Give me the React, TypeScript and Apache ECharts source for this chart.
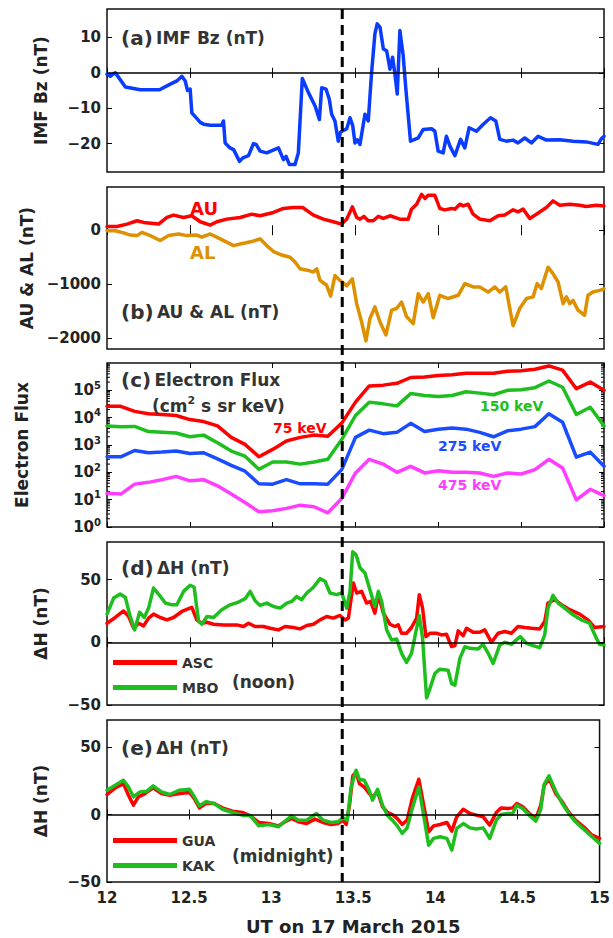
import React, { useEffect, useRef } from 'react';
import * as echarts from 'echarts';

// ---------------- data ----------------
const EVENT_TIME = 13.42;
const X_MIN = 12;
const X_MAX = 15;

const bzTicks = [-20, -10, 0, 10];
const aeTicks = [-2000, -1000, 0];
const fluxTicks = [1, 10, 100, 1e3, 1e4, 1e5];
const fluxDecades = [1, 10, 100, 1e3, 1e4, 1e5];
const minorSteps = [2, 3, 4, 5, 6, 7, 8, 9];
const dhTicks = [-50, 0, 50];

const imfBz = [
  [12.0, -0.4], [12.02, -1.0], [12.036, -0.4], [12.05, 0], [12.07, -1.3], [12.111, -4.0], [12.201, -4.8],
  [12.317, -4.8], [12.382, -3.2], [12.422, -2.3], [12.452, -1.0], [12.472, -2.3], [12.486, -5.0], [12.502, -4.6],
  [12.512, -11.3], [12.563, -14.0], [12.583, -14.5], [12.623, -14.8], [12.693, -14.8], [12.703, -13.6],
  [12.713, -19.8], [12.743, -21.2], [12.764, -21.7], [12.774, -22.6], [12.8, -25.0], [12.82, -24.0],
  [12.854, -23.4], [12.884, -20.0], [12.9, -20.2], [12.924, -22.1], [12.964, -22.6], [13.035, -21.2],
  [13.065, -24.5], [13.081, -23.6], [13.101, -25.9], [13.135, -25.9], [13.155, -22.6], [13.179, -1.6],
  [13.216, -5.6], [13.256, -9.4], [13.282, -13.2], [13.296, -4.2], [13.322, -4.6], [13.342, -7.5],
  [13.356, -11.7], [13.376, -13.6], [13.396, -19.3], [13.41, -16.7], [13.447, -15.8], [13.467, -12.7],
  [13.483, -14.9], [13.497, -19.8], [13.511, -18.9], [13.527, -20.2], [13.557, -11.7], [13.577, -13.6],
  [13.597, 0], [13.617, 11.0], [13.631, 13.8], [13.648, 12.9], [13.668, 6.7], [13.688, 6.2], [13.708, 1.0],
  [13.724, 4.4], [13.738, -0.4], [13.752, -6.0], [13.768, 11.9], [13.788, 4.8], [13.804, -4.6],
  [13.832, -19.3], [13.879, -18.4], [13.909, -16.0], [13.959, -15.8], [13.979, -16.5], [13.999, -22.1],
  [14.029, -22.6], [14.049, -17.9], [14.07, -20.7], [14.1, -23.4], [14.134, -18.8], [14.16, -21.2],
  [14.186, -15.5], [14.23, -16.5], [14.27, -14.6], [14.315, -12.7], [14.347, -13.6], [14.371, -18.8],
  [14.411, -19.3], [14.451, -19.0], [14.481, -19.8], [14.522, -18.4], [14.562, -19.8], [14.602, -17.9],
  [14.652, -19.0], [14.733, -18.9], [14.813, -19.3], [14.893, -19.5], [14.964, -20.2], [14.984, -18.6],
  [15.0, -17.9],
];

const auIndex = [
  [12.0, 70], [12.06, 70], [12.121, 113], [12.181, 175], [12.221, 144], [12.311, 113], [12.362, 236],
  [12.402, 280], [12.462, 236], [12.512, 267], [12.563, 156], [12.623, 95], [12.663, 156], [12.723, 205],
  [12.804, 236], [12.874, 297], [12.924, 267], [13.005, 328], [13.065, 402], [13.125, 420], [13.181, 420],
  [13.246, 280], [13.306, 205], [13.366, 156], [13.417, 113], [13.447, 205], [13.481, 432], [13.507, 236],
  [13.527, 205], [13.551, 255], [13.577, 175], [13.607, 175], [13.638, 255], [13.668, 218], [13.708, 267],
  [13.768, 205], [13.818, 205], [13.838, 390], [13.869, 482], [13.899, 666], [13.919, 586], [13.939, 647],
  [13.979, 647], [14.009, 402], [14.039, 377], [14.08, 402], [14.1, 390], [14.13, 482], [14.15, 450],
  [14.18, 482], [14.21, 297], [14.25, 205], [14.311, 175], [14.361, 267], [14.401, 280], [14.451, 377],
  [14.481, 340], [14.512, 390], [14.552, 218], [14.592, 297], [14.652, 420], [14.692, 543], [14.733, 463],
  [14.793, 482], [14.853, 463], [14.893, 439], [14.954, 463], [15.0, 450],
];

const alIndex = [
  [12.0, -10], [12.05, -10], [12.1, -50], [12.141, -90], [12.181, -100], [12.211, -40], [12.261, -100],
  [12.321, -190], [12.372, -100], [12.432, -70], [12.482, -100], [12.542, -90], [12.573, -130],
  [12.623, -70], [12.683, -160], [12.764, -285], [12.804, -255], [12.874, -210], [12.924, -160],
  [12.964, -285], [13.005, -395], [13.055, -460], [13.105, -500], [13.135, -590], [13.165, -715],
  [13.216, -745], [13.246, -775], [13.266, -715], [13.286, -930], [13.326, -1020], [13.35, -1220],
  [13.376, -840], [13.406, -930], [13.447, -1030], [13.481, -900], [13.507, -1360], [13.537, -1700],
  [13.563, -2050], [13.587, -1640], [13.617, -1420], [13.648, -1700], [13.684, -1940], [13.718, -1480],
  [13.748, -1450], [13.778, -1330], [13.808, -1600], [13.848, -1730], [13.879, -1175], [13.909, -1330],
  [13.939, -1175], [13.969, -1620], [14.009, -1205], [14.059, -1265], [14.12, -1205], [14.16, -990],
  [14.21, -1050], [14.25, -1050], [14.301, -1145], [14.341, -1050], [14.371, -1145], [14.407, -1050],
  [14.451, -1770], [14.491, -1450], [14.532, -1265], [14.572, -1235], [14.596, -990], [14.622, -1080],
  [14.662, -685], [14.692, -805], [14.723, -960], [14.753, -1360], [14.773, -1235], [14.793, -1360],
  [14.813, -1300], [14.843, -1480], [14.883, -1575], [14.903, -1205], [14.933, -1145], [14.974, -1115],
  [15.0, -1085],
];

const fluxTime = [
  12.0, 12.083, 12.167, 12.25, 12.333, 12.417, 12.5, 12.583, 12.667, 12.75, 12.833, 12.917, 13.0,
  13.083, 13.167, 13.25, 13.333, 13.417, 13.5, 13.583, 13.667, 13.75, 13.833, 13.917, 14.0, 14.083,
  14.167, 14.25, 14.333, 14.417, 14.5, 14.583, 14.667, 14.75, 14.833, 14.917, 15.0,
];
const flux75 = [
  2.6e4, 2.6e4, 1.7e4, 1.4e4, 1.3e4, 1.2e4, 8.5e3, 7.2e3, 5.0e3, 1.9e3, 1.05e3, 3.7e2, 6.9e2, 1.4e3,
  1.9e3, 2.3e3, 2.1e3, 6.3e3, 3.7e4, 1.45e5, 1.55e5, 1.8e5, 2.95e5, 3.1e5, 3.5e5, 3.7e5, 4.2e5, 4.2e5,
  4.2e5, 5.0e5, 5.2e5, 5.9e5, 7.8e5, 5.5e5, 1.15e5, 2.0e5, 1.0e5,
];
const flux150 = [
  5.0e3, 4.7e3, 4.8e3, 3.1e3, 2.9e3, 2.75e3, 2.0e3, 2.3e3, 1.2e3, 6.0e2, 3.9e2, 1.3e2, 2.4e2, 2.4e2,
  2.0e2, 2.4e2, 3.0e2, 1.6e3, 1.2e4, 3.7e4, 3.2e4, 2.7e4, 7.6e4, 6.5e4, 6.0e4, 6.5e4, 8.9e4, 7.9e4,
  6.9e4, 1.0e5, 1.05e5, 1.25e5, 2.2e5, 1.3e5, 1.3e4, 2.4e4, 5.0e3,
];
const flux275 = [
  3.7e2, 3.7e2, 6.3e2, 5.2e2, 5.5e2, 6.0e2, 4.9e2, 5.2e2, 3.1e2, 1.8e2, 1.1e2, 38, 37, 54, 38, 38, 37,
  1.26e2, 1.9e3, 3.5e3, 2.6e3, 2.9e3, 6.2e3, 3.1e3, 3.8e3, 4.2e3, 3.8e3, 2.9e3, 2.0e3, 3.3e3, 3.8e3,
  4.7e3, 1.4e4, 6.8e3, 3.6e2, 5.5e2, 1.66e2,
];
const flux475 = [
  17, 16, 37, 43, 54, 71, 49, 54, 32, 16, 7.9, 3.6, 3.9, 4.8, 6.3, 5.5, 3.3, 11, 95, 3.0e2, 2.0e2,
  1.0e2, 1.66e2, 95, 1.15e2, 1.0e2, 1.0e2, 95, 71, 95, 87, 1.26e2, 3.0e2, 1.45e2, 9.8, 24, 14,
];

const dhASC = [
  [12.0, 15.2], [12.05, 19.8], [12.1, 25], [12.131, 20.6], [12.161, 11.2], [12.191, 15.2], [12.221, 13.1],
  [12.251, 19.3], [12.281, 22.5], [12.321, 19.8], [12.362, 17.9], [12.402, 19.8], [12.452, 24.6],
  [12.512, 27.8], [12.542, 17.9], [12.573, 15.2], [12.603, 16], [12.643, 14.4], [12.703, 13.9],
  [12.784, 13.9], [12.824, 12.6], [12.854, 15.2], [12.894, 12.6], [12.944, 12.6], [12.985, 11.2],
  [13.035, 9.9], [13.075, 12.6], [13.125, 11.8], [13.165, 10.7], [13.206, 13.4], [13.246, 14.4],
  [13.286, 17.9], [13.326, 20.6], [13.366, 19.3], [13.406, 21.4], [13.437, 17.9], [13.457, 19.3],
  [13.487, 47.3], [13.507, 39.3], [13.537, 40.6], [13.567, 31.3], [13.591, 32.6], [13.617, 23.3],
  [13.638, 38], [13.668, 23.3], [13.708, 14.4], [13.738, 12.6], [13.758, 13.9], [13.778, 7.2],
  [13.808, 7.2], [13.838, 11.8], [13.869, 19.3], [13.885, 38], [13.905, 27.3], [13.925, 4.5],
  [13.949, 7.2], [13.989, 7.2], [14.019, 5.9], [14.049, 6.4], [14.08, -3.5], [14.1, -2.7], [14.12, 9.1],
  [14.15, 5.3], [14.17, 11.2], [14.21, 8], [14.25, 8], [14.28, 9.9], [14.321, 0], [14.361, 7.2],
  [14.401, 8.6], [14.441, 7.2], [14.481, 12.6], [14.522, 11.8], [14.562, 11.2], [14.612, 10.7],
  [14.642, 16.6], [14.662, 31.3], [14.702, 34], [14.743, 30], [14.793, 26], [14.853, 22.5],
  [14.903, 17.9], [14.943, 11.8], [15.0, 12.6],
];

const dhMBO = [
  [12.0, 22.5], [12.04, 35.3], [12.08, 38.5], [12.111, 35.8], [12.137, 21.9], [12.167, 9.9], [12.197, 24],
  [12.225, 19.8], [12.251, 27.3], [12.281, 43.3], [12.311, 38.5], [12.352, 31.3], [12.392, 29.9],
  [12.422, 29.9], [12.462, 40.6], [12.502, 45.5], [12.526, 43.9], [12.553, 16.6], [12.573, 14.4],
  [12.603, 20.6], [12.643, 19.8], [12.693, 25.9], [12.743, 29.9], [12.794, 32.1], [12.834, 34.8],
  [12.864, 40.6], [12.894, 33.2], [12.924, 29.4], [12.964, 31.3], [13.005, 28.6], [13.045, 27.3],
  [13.085, 31.3], [13.115, 32.6], [13.145, 36.6], [13.175, 34], [13.206, 39.3], [13.246, 43.9],
  [13.286, 50.8], [13.316, 48.7], [13.346, 39.3], [13.386, 38], [13.417, 39.3], [13.447, 27.3],
  [13.467, 40.6], [13.483, 72.2], [13.503, 70], [13.527, 59.4], [13.557, 55.3], [13.587, 42],
  [13.617, 28.6], [13.638, 40.6], [13.658, 32.6], [13.688, 9.9], [13.718, 1.9], [13.748, 2.7],
  [13.778, -8.8], [13.808, -16], [13.838, -8.8], [13.869, 11.2], [13.885, 21.4], [13.905, 3.2],
  [13.929, -44.4], [13.949, -36.9], [13.979, -24.9], [14.009, -21.4], [14.059, -22.2], [14.08, -32.9],
  [14.1, -34.2], [14.13, -12.8], [14.16, -3.5], [14.19, -4.8], [14.24, -5.3], [14.27, -1.6],
  [14.301, -8.8], [14.331, -16.8], [14.371, -2.1], [14.401, 0], [14.441, -1.6], [14.471, 1.9],
  [14.495, 4.5], [14.532, -0.8], [14.572, -2.7], [14.612, -4.3], [14.642, 5.9], [14.662, 27.3],
  [14.692, 37.4], [14.723, 31.3], [14.763, 27.3], [14.813, 21.9], [14.863, 17.9], [14.913, 15.2],
  [14.954, 3.2], [14.974, -1.6], [15.0, -2.1],
];

const dhGUA = [
  [12.0, 14.8], [12.05, 19.7], [12.1, 22.9], [12.131, 14.3], [12.161, 6.9], [12.191, 13.1], [12.231, 15.5],
  [12.281, 19.7], [12.332, 15.5], [12.382, 14.3], [12.442, 15.5], [12.502, 16.3], [12.532, 11.8],
  [12.563, 4.9], [12.603, 8.1], [12.653, 8.1], [12.703, 4.9], [12.764, 2.5], [12.824, 1.5], [12.874, -1],
  [12.924, -5.9], [12.985, -6.7], [13.045, -8.4], [13.085, -5.4], [13.125, -3], [13.165, -5.4],
  [13.216, -6.7], [13.266, -3.4], [13.316, -5.9], [13.366, -7.4], [13.406, -6.7], [13.437, -4.2],
  [13.457, -7.4], [13.477, 6.9], [13.497, 28.6], [13.517, 31.5], [13.537, 22.9], [13.567, 20.4],
  [13.597, 15.5], [13.617, 13.1], [13.648, 16.7], [13.678, 5.7], [13.708, 1.5], [13.738, 0],
  [13.768, -3], [13.798, -7.4], [13.828, -4.2], [13.859, 11.8], [13.899, 26.1], [13.925, 9.4],
  [13.959, -12.8], [13.989, -8.4], [14.029, -7.4], [14.07, -5.9], [14.1, -12.3], [14.13, -1.7],
  [14.17, 3.9], [14.21, 0.7], [14.25, -0.5], [14.291, -1.7], [14.331, -7.9], [14.371, 1.5],
  [14.401, 4.9], [14.441, 4.4], [14.471, 4.9], [14.495, 8.1], [14.532, 5.7], [14.572, 0.7],
  [14.612, -3], [14.642, 6.9], [14.662, 21.2], [14.692, 26.6], [14.733, 15.5], [14.773, 9.4],
  [14.813, 1.5], [14.853, -4.2], [14.903, -9.1], [14.954, -15.3], [15.0, -17.7],
];

const dhKAK = [
  [12.0, 18], [12.05, 21.7], [12.1, 25.4], [12.131, 20.4], [12.161, 13.1], [12.201, 16.7], [12.241, 17.2],
  [12.281, 21.2], [12.332, 16.7], [12.382, 14.8], [12.442, 18], [12.502, 18.7], [12.532, 13.1],
  [12.563, 6.4], [12.603, 9.4], [12.653, 8.1], [12.703, 3.9], [12.764, 1.5], [12.824, -0.5], [12.874, -1],
  [12.924, -8.4], [12.985, -7.4], [13.045, -9.1], [13.085, -4.9], [13.125, -1], [13.165, -4.2],
  [13.216, -4.2], [13.276, 0.7], [13.316, -4.2], [13.366, -5.9], [13.406, -5.4], [13.437, -2.5],
  [13.463, -4.2], [13.487, 20.4], [13.517, 32.8], [13.537, 26.1], [13.567, 25.4], [13.597, 18],
  [13.617, 10.6], [13.648, 18.7], [13.678, 6.9], [13.708, -0.5], [13.738, -4.2], [13.768, -8.4],
  [13.798, -14], [13.828, -9.9], [13.859, 4.4], [13.899, 20.4], [13.925, 2], [13.959, -22.7],
  [13.989, -17.7], [14.029, -16.5], [14.07, -17.7], [14.1, -26.4], [14.13, -10.3], [14.17, -6.7],
  [14.21, -9.9], [14.25, -10.8], [14.291, -9.9], [14.331, -17.7], [14.371, -4.2], [14.401, 0],
  [14.441, 0.7], [14.471, 0.7], [14.495, 6.9], [14.532, 4.4], [14.572, -0.5], [14.612, -4.9],
  [14.642, 3.9], [14.662, 22.2], [14.692, 28.6], [14.733, 17.2], [14.773, 8.1], [14.813, 0.7],
  [14.853, -5.4], [14.903, -10.8], [14.954, -16.5], [15.0, -21.4],
];

// ---------------- styling ----------------
const FONT = 'DejaVu Sans';
const INK = '#222';
const LABEL_INK = '#333';
const BLUE = '#0a3cff';
const RED = '#ff0000';
const ORANGE = '#dd9000';
const GREEN = '#1ebe1e';
const BLUE2 = '#1a4cff';
const MAGENTA = '#ff3cff';

const GRIDS = [
  { top: 9, height: 163 },
  { top: 187, height: 162 },
  { top: 363, height: 164 },
  { top: 542, height: 163 },
  { top: 720, height: 162 },
];

const Y_CFG = [
  { type: 'value', min: -28, max: 18, ticks: bzTicks, name: 'IMF Bz (nT)', nameGap: 58 },
  { type: 'value', min: -2200, max: 800, ticks: aeTicks, name: 'AU & AL (nT)', nameGap: 58 },
  { type: 'log', min: 1, max: 1e6, ticks: fluxTicks, name: 'Electron Flux', nameGap: 77 },
  { type: 'value', min: -50, max: 80, ticks: dhTicks, name: 'ΔH (nT)', nameGap: 58 },
  { type: 'value', min: -50, max: 70, ticks: dhTicks, name: 'ΔH (nT)', nameGap: 58 },
];

const minus = (v: number) => (v < 0 ? '\u2212' + Math.abs(v) : String(v));

function buildOption() {
  const xAxis: any[] = [];
  const yAxis: any[] = [];
  GRIDS.forEach((_, i) => {
    const tick = { show: true, inside: true, length: 5, lineStyle: { color: '#000', width: 1 } };
    xAxis.push({
      gridIndex: i, type: 'value', min: X_MIN, max: X_MAX, interval: 0.5, position: 'bottom',
      axisLine: { show: false }, axisTick: tick, splitLine: { show: false },
      axisLabel: {
        show: i === 4, margin: 8, color: INK, fontFamily: FONT, fontWeight: 'bold', fontSize: 15,
        formatter: (v: number) => String(v),
      },
      name: i === 4 ? 'UT on 17 March 2015' : '', nameLocation: 'middle', nameGap: 35,
      nameTextStyle: { color: INK, fontFamily: FONT, fontWeight: 'bold', fontSize: 18 },
    });
    xAxis.push({
      gridIndex: i, type: 'value', min: X_MIN, max: X_MAX, interval: 0.5, position: 'top',
      axisLine: { show: false }, axisTick: tick, splitLine: { show: false }, axisLabel: { show: false },
    });
    const c = Y_CFG[i];
    const isLog = c.type === 'log';
    yAxis.push({
      gridIndex: i, type: c.type, min: c.min, max: c.max, position: 'left',
      axisLine: { show: false },
      axisTick: { ...tick, customValues: c.ticks },
      splitLine: { show: false },
      minorTick: { show: false },
      axisLabel: {
        customValues: c.ticks, margin: 6, color: INK, fontFamily: FONT, fontWeight: 'bold', fontSize: 15,
        formatter: isLog
          ? (v: number) => `{b|10}{s|${Math.round(Math.log10(v))}}`
          : (v: number) => minus(v),
        rich: isLog
          ? {
              b: { fontFamily: FONT, fontWeight: 'bold', fontSize: 15, color: INK, lineHeight: 20 },
              s: { fontFamily: FONT, fontWeight: 'bold', fontSize: 10, color: INK, verticalAlign: 'top', lineHeight: 10 },
            }
          : undefined,
      },
      name: c.name, nameLocation: 'middle', nameGap: c.nameGap, nameRotate: 90,
      nameTextStyle: { color: INK, fontFamily: FONT, fontWeight: 'bold', fontSize: 17 },
    });
    yAxis.push({
      gridIndex: i, type: c.type, min: c.min, max: c.max, position: 'right',
      axisLine: { show: false },
      axisTick: { ...tick, customValues: c.ticks },
      splitLine: { show: false }, axisLabel: { show: false },
    });
  });

  const zeroLine = {
    silent: true, symbol: ['none', 'none'], label: { show: false },
    lineStyle: { color: '#000', width: 1.5, type: 'solid' },
    data: [{ yAxis: 0 }],
  };
  const line = (name: string, xi: number, data: any[], color: string, extra: any = {}) => ({
    type: 'line', name, xAxisIndex: xi, yAxisIndex: xi, data, symbol: 'none', showSymbol: false,
    lineStyle: { color, width: 3.5, join: 'round', cap: 'round' }, itemStyle: { color },
    silent: true, z: 3, ...extra,
  });
  const zipFlux = (vals: number[]) => fluxTime.map((t, k) => [t, vals[k]]);

  const minorVals: number[][] = [];
  fluxDecades.forEach((d) => minorSteps.forEach((s) => minorVals.push([X_MIN, d * s])));

  const series: any[] = [
    line('IMF Bz', 0, imfBz, BLUE, { markLine: zeroLine }),
    line('AU', 2, auIndex, RED),
    line('AL', 2, alIndex, ORANGE),
    line('75 keV', 4, zipFlux(flux75), RED),
    line('150 keV', 4, zipFlux(flux150), GREEN),
    line('275 keV', 4, zipFlux(flux275), BLUE2),
    line('475 keV', 4, zipFlux(flux475), MAGENTA),
    {
      type: 'custom', name: 'minor', xAxisIndex: 4, yAxisIndex: 4, data: minorVals, silent: true, clip: false,
      renderItem: (_p: any, api: any) => {
        const v = api.value(1);
        const pl = api.coord([X_MIN, v]);
        const pr = api.coord([X_MAX, v]);
        return {
          type: 'group',
          children: [
            { type: 'line', shape: { x1: pl[0], y1: pl[1], x2: pl[0] + 3, y2: pl[1] }, style: { stroke: '#000', lineWidth: 1 } },
            { type: 'line', shape: { x1: pr[0], y1: pr[1], x2: pr[0] - 3, y2: pr[1] }, style: { stroke: '#000', lineWidth: 1 } },
          ],
        };
      },
    },
    line('ASC', 6, dhASC, RED, { markLine: zeroLine }),
    line('MBO', 6, dhMBO, GREEN),
    line('GUA', 8, dhGUA, RED, { markLine: zeroLine }),
    line('KAK', 8, dhKAK, GREEN),
  ];

  const legendText = { fontFamily: FONT, fontWeight: 'bold', fontSize: 14, color: LABEL_INK, lineHeight: 17 };
  const legendBase = {
    orient: 'vertical', left: 113, icon: 'rect', itemWidth: 64, itemHeight: 5, itemGap: 8,
    selectedMode: false, textStyle: legendText, padding: 0,
  };
  const legend = [
    { ...legendBase, data: ['ASC', 'MBO'], top: 654 },
    { ...legendBase, data: ['GUA', 'KAK'], top: 832 },
  ];

  return {
    animation: false,
    backgroundColor: '#fff',
    grid: GRIDS.map((g) => ({
      left: 107, right: 9, top: g.top, height: g.height, show: true,
      borderColor: '#111', borderWidth: 1.5, backgroundColor: 'transparent',
    })),
    xAxis, yAxis, series, legend,
  };
}

function panelTitle(x: number, y: number, tag: string, title: string) {
  return {
    type: 'text', x, y, z: 50,
    style: {
      text: `{p|${tag}} {t|${title}}`,
      verticalAlign: 'middle', align: 'left',
      rich: {
        p: { fontFamily: FONT, fontWeight: 'bold', fontSize: 20, fill: LABEL_INK, color: LABEL_INK },
        t: { fontFamily: FONT, fontWeight: 'bold', fontSize: 17, fill: LABEL_INK, color: LABEL_INK },
      },
    },
  };
}
function label(x: number, y: number, text: string, color: string, size: number) {
  return {
    type: 'text', x, y, z: 50,
    style: {
      text, fill: color, fontFamily: FONT, fontWeight: 'bold', fontSize: size,
      verticalAlign: 'middle', align: 'left',
    },
  };
}

export default function App() {
  const ref = useRef<HTMLDivElement>(null);
  useEffect(() => {
    const chart = echarts.init(ref.current!, null, { renderer: 'svg' });
    chart.setOption(buildOption() as any);
    const ex = chart.convertToPixel({ xAxisIndex: 0 }, EVENT_TIME) as number;
    const yTop = chart.convertToPixel({ yAxisIndex: 0 }, Y_CFG[0].max) as number;
    const yBot = chart.convertToPixel({ yAxisIndex: 8 }, Y_CFG[4].min) as number;
    chart.setOption({
      graphic: [
        panelTitle(121, 38, '(a)', 'IMF Bz (nT)'),
        label(190, 208, 'AU', RED, 18),
        label(190, 252, 'AL', ORANGE, 18),
        panelTitle(121, 312, '(b)', 'AU & AL (nT)'),
        panelTitle(121, 380, '(c)', 'Electron Flux'),
        {
          type: 'text', x: 152, y: 406, z: 50,
          style: {
            text: '{t|(cm}{s|2}{t| s sr keV)}', verticalAlign: 'middle', align: 'left',
            rich: {
              t: { fontFamily: FONT, fontWeight: 'bold', fontSize: 17, fill: LABEL_INK, lineHeight: 22 },
              s: { fontFamily: FONT, fontWeight: 'bold', fontSize: 11, fill: LABEL_INK, verticalAlign: 'top', lineHeight: 11 },
            },
          },
        },
        label(273, 428, '75 keV', RED, 14),
        label(480, 406, '150 keV', GREEN, 14),
        label(438, 446, '275 keV', BLUE2, 14),
        label(438, 485, '475 keV', MAGENTA, 14),
        panelTitle(121, 568, '(d)', 'ΔH (nT)'),
        label(232, 682, '(noon)', LABEL_INK, 17),
        panelTitle(121, 748, '(e)', 'ΔH (nT)'),
        label(232, 856, '(midnight)', LABEL_INK, 17),
        {
          type: 'line', z: 100,
          shape: { x1: ex, y1: yTop, x2: ex, y2: yBot },
          style: { stroke: '#000', lineWidth: 3, lineDash: [10, 6] },
        },
      ],
    });
    return () => chart.dispose();
  }, []);
  return (
    <div
      ref={ref}
      style={{ position: 'fixed', left: 0, top: 0, width: 613, height: 938, background: '#fff' }}
    />
  );
}
